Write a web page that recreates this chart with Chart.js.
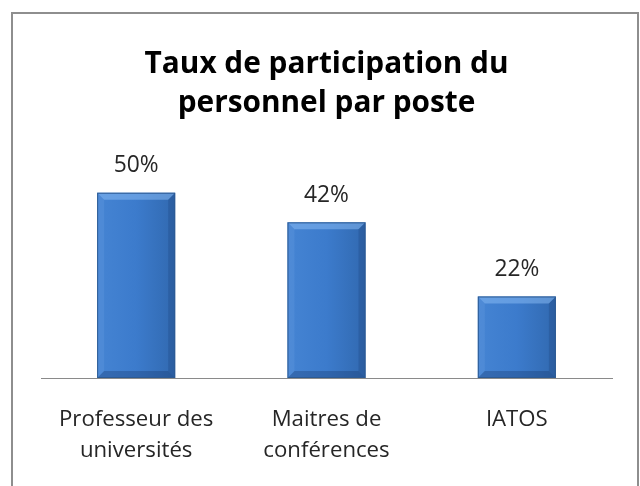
<!DOCTYPE html>
<html>
<head>
<meta charset="utf-8">
<script src="https://cdn.jsdelivr.net/npm/chart.js@4"></script>
<style>
  html, body { margin: 0; padding: 0; background: #fff; }
  #wrap { width: 640px; height: 486px; }
</style>
</head>
<body>
<div id="wrap"><canvas id="chart" width="640" height="486"></canvas></div>
<script>
// chart data
let categories = [["Professeur des", "universités"], ["Maitres de", "conférences"], "IATOS"];
let rates = [50, 42, 22];
let rateLabels = ["50%", "42%", "22%"];
let titleLines = ["Taux de participation du", "personnel par poste"];

let barPct = 0.41;

// frame around the chart
let framePlugin = {
  id: "frame",
  beforeDraw(chart) {
    let ctx = chart.ctx;
    ctx.save();
    ctx.fillStyle = "#fff";
    ctx.fillRect(0, 0, chart.width, chart.height);
    ctx.strokeStyle = "#8e8e8e";
    ctx.lineWidth = 2;
    ctx.strokeRect(12, 13, 626, 500);
    ctx.restore();
  }
};

// bevel highlights + value labels on top of the bars
let barLook = {
  id: "barLook",
  afterDatasetsDraw(chart) {
    let ctx = chart.ctx;
    let meta = chart.getDatasetMeta(0);
    meta.data.forEach((bar, i) => {
      let l = bar.x - bar.width / 2, r = bar.x + bar.width / 2;
      let t = bar.y, b = bar.base;
      let e = 7;
      ctx.save();
      // top bevel
      ctx.fillStyle = "rgba(140,190,245,0.5)";
      ctx.beginPath();
      ctx.moveTo(l, t); ctx.lineTo(r, t); ctx.lineTo(r - e, t + e); ctx.lineTo(l + e, t + e);
      ctx.closePath(); ctx.fill();
      // left bevel
      ctx.fillStyle = "rgba(120,170,230,0.2)";
      ctx.beginPath();
      ctx.moveTo(l, t); ctx.lineTo(l + e, t + e); ctx.lineTo(l + e, b - e); ctx.lineTo(l, b);
      ctx.closePath(); ctx.fill();
      // right bevel
      ctx.fillStyle = "rgba(20,50,100,0.2)";
      ctx.beginPath();
      ctx.moveTo(r, t); ctx.lineTo(r - e, t + e); ctx.lineTo(r - e, b - e); ctx.lineTo(r, b);
      ctx.closePath(); ctx.fill();
      // bottom bevel
      ctx.fillStyle = "rgba(20,50,100,0.3)";
      ctx.beginPath();
      ctx.moveTo(l, b); ctx.lineTo(l + e, b - e); ctx.lineTo(r - e, b - e); ctx.lineTo(r, b);
      ctx.closePath(); ctx.fill();
      ctx.strokeStyle = "#2c5a93";
      ctx.lineWidth = 1;
      ctx.strokeRect(l + 0.5, t + 0.5, r - l - 1, b - t - 1);

      ctx.fillStyle = "#262626";
      ctx.font = "22.8px 'Open Sans'";
      ctx.textAlign = "center";
      ctx.textBaseline = "middle";
      ctx.fillText(rateLabels[i], bar.x, t - 27);
      ctx.restore();
    });
  }
};

function barFill(c) {
  let chart = c.chart;
  if (!chart.chartArea || !chart.scales.x) return "#3b78c6";
  let x = chart.scales.x.getPixelForValue(c.dataIndex);
  let half = chart.scales.x.width / categories.length * barPct / 2;
  let g = chart.ctx.createLinearGradient(x - half, 0, x + half, 0);
  g.addColorStop(0, "#4584d3");
  g.addColorStop(0.5, "#3c7bcc");
  g.addColorStop(1, "#3169b0");
  return g;
}

let graphTarget = document.getElementById("chart");
let graph = new Chart(graphTarget, {
  type: "bar",
  data: {
    labels: categories,
    datasets: [{
      data: rates,
      backgroundColor: barFill,
      borderWidth: 0,
      barPercentage: barPct,
      categoryPercentage: 1
    }]
  },
  options: {
    responsive: false,
    animation: false,
    layout: { padding: { left: 41, right: 28, top: 0, bottom: 0 } },
    plugins: {
      legend: { display: false },
      tooltip: { enabled: false },
      title: {
        display: true,
        text: titleLines,
        color: "#000",
        font: { family: "'Open Sans'", size: 29.8, weight: "bold", lineHeight: 1.32 },
        padding: { top: 45, bottom: 32 }
      }
    },
    scales: {
      x: {
        grid: { display: false, drawTicks: false, tickLength: 0 },
        border: { display: true, color: "#8a8a8a", width: 1 },
        ticks: {
          color: "#262626",
          font: { family: "'Open Sans'", size: 22.2, lineHeight: 1.4 },
          padding: 26,
          maxRotation: 0,
          autoSkip: false
        },
        afterFit(scale) { scale.height = 108; }
      },
      y: {
        display: false,
        min: 0,
        max: 60
      }
    }
  },
  plugins: [framePlugin, barLook]
});
</script>
</body>
</html>
